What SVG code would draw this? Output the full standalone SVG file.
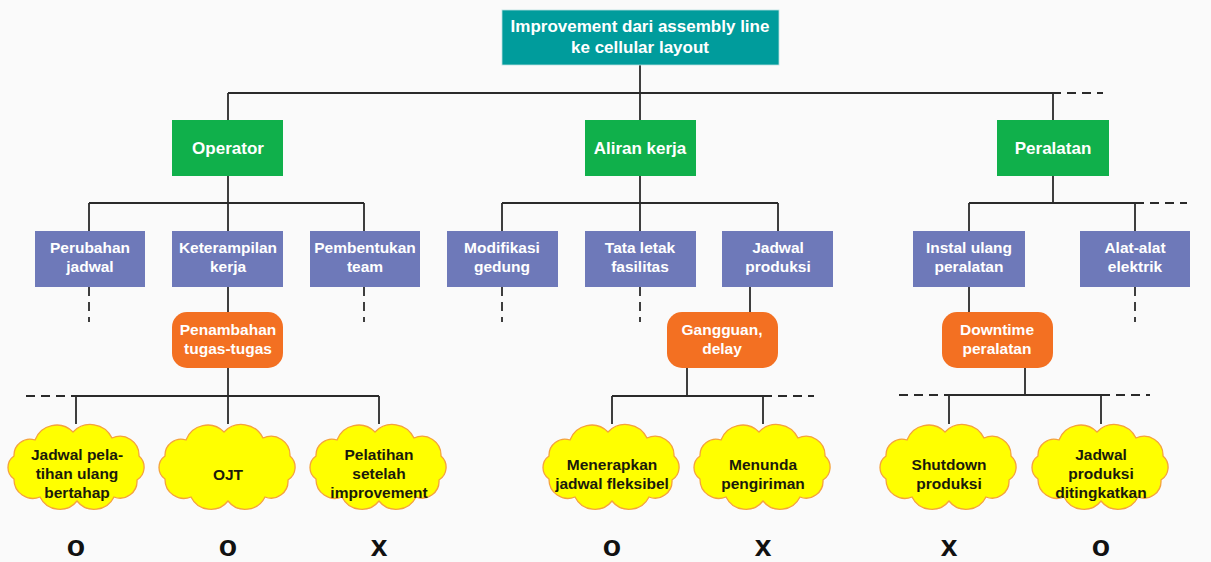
<svg xmlns="http://www.w3.org/2000/svg" width="1211" height="562" viewBox="0 0 1211 562">
<defs>
<style>
.bx text{font-family:"Liberation Sans",Arial,sans-serif;font-weight:bold;font-size:15.5px;fill:#fff;text-anchor:middle}
.bx text.big{font-size:17px}
.top{fill:#009c9c;stroke:#b9e0e0;stroke-width:0.8}
.grn{fill:#10b04b}
.blu{fill:#6e79b9}
.org{fill:#f37022}
.cl text{font-family:"Liberation Sans",Arial,sans-serif;font-weight:bold;font-size:15.5px;fill:#1a1a0a;text-anchor:middle}
.cloud{fill:#ffff00;stroke:#f5a23c;stroke-width:1.3}
.ln{stroke:#2a2a2a;stroke-width:1.8;fill:none}
.dl{stroke:#2a2a2a;stroke-width:1.8;fill:none;stroke-dasharray:9 6}
.mk{font-family:"Liberation Sans",Arial,sans-serif;font-weight:bold;font-size:30px;fill:#111;text-anchor:middle}
</style>
<path id="cloudShape" class="cloud" d="M-42,-26 A23,23 0 0 1 -4,-34 A24,24 0 0 1 35,-28 A19,19 0 0 1 62,-10 A15,15 0 0 1 60,14 A17,17 0 0 1 37,31 A22,22 0 0 1 0,35 A22,22 0 0 1 -37,31 A19,19 0 0 1 -63,13 A14,14 0 0 1 -63,-10 A16,16 0 0 1 -42,-26 Z"/>
</defs>
<rect width="1211" height="562" fill="#fafafa"/>

<g id="connectors">
<path class="ln" d="M640,65V93M228,93H1052M228,93V120M640,93V120M1053,93V120"/>
<path class="dl" d="M1052,93H1103"/>
<path class="ln" d="M228,176V203M89,203H364M89,203V231M228,203V231M364,203V231"/>
<path class="ln" d="M640,176V231M502,203H778M502,203V231M778,203V231"/>
<path class="ln" d="M1053,176V203M969,203H1135M969,203V231M1135,203V231"/>
<path class="dl" d="M1135,203H1187"/>
<path class="dl" d="M89,287V322M364,287V322M502,287V322M640,287V322M1135,287V322"/>
<path class="ln" d="M228,287V312M228,368V424M76,396H379M76,396V424M379,396V424"/>
<path class="dl" d="M26,396H76"/>
<path class="ln" d="M750,287V312M687,368V396M612,396H763M612,396V424M763,396V424"/>
<path class="dl" d="M763,396H814"/>
<path class="ln" d="M969,287V312M1025,368V395M949,395H1101M949,395V424M1101,395V424"/>
<path class="dl" d="M899,395H949M1101,395H1150"/>
</g>

<g id="n-top" class="bx"><rect class="top" x="502" y="10" width="277" height="55"/><text class="big" x="640" y="32">Improvement dari assembly line</text><text class="big" x="640" y="53">ke cellular layout</text></g>

<g id="n-operator" class="bx"><rect class="grn" x="172" y="120" width="111" height="56"/><text class="big" x="228" y="154">Operator</text></g>
<g id="n-aliran" class="bx"><rect class="grn" x="585" y="120" width="111" height="56"/><text class="big" x="640" y="154">Aliran kerja</text></g>
<g id="n-peralatan" class="bx"><rect class="grn" x="997" y="120" width="112" height="56"/><text class="big" x="1053" y="154">Peralatan</text></g>

<g id="n-perubahan" class="bx"><rect class="blu" x="35" y="231" width="110" height="56"/><text x="90" y="253">Perubahan</text><text x="90" y="272">jadwal</text></g>
<g id="n-keterampilan" class="bx"><rect class="blu" x="172" y="231" width="111" height="56"/><text x="228" y="253">Keterampilan</text><text x="228" y="272">kerja</text></g>
<g id="n-pembentukan" class="bx"><rect class="blu" x="310" y="231" width="110" height="56"/><text x="365" y="253">Pembentukan</text><text x="365" y="272">team</text></g>
<g id="n-modifikasi" class="bx"><rect class="blu" x="447" y="231" width="111" height="56"/><text x="502" y="253">Modifikasi</text><text x="502" y="272">gedung</text></g>
<g id="n-tataletak" class="bx"><rect class="blu" x="585" y="231" width="111" height="56"/><text x="640" y="253">Tata letak</text><text x="640" y="272">fasilitas</text></g>
<g id="n-jadwalproduksi" class="bx"><rect class="blu" x="722" y="231" width="111" height="56"/><text x="778" y="253">Jadwal</text><text x="778" y="272">produksi</text></g>
<g id="n-instal" class="bx"><rect class="blu" x="913" y="231" width="112" height="56"/><text x="969" y="253">Instal ulang</text><text x="969" y="272">peralatan</text></g>
<g id="n-alat" class="bx"><rect class="blu" x="1080" y="231" width="110" height="56"/><text x="1135" y="253">Alat-alat</text><text x="1135" y="272">elektrik</text></g>

<g id="n-penambahan" class="bx"><rect class="org" x="172" y="312" width="111" height="56" rx="15"/><text x="228" y="335">Penambahan</text><text x="228" y="354">tugas-tugas</text></g>
<g id="n-gangguan" class="bx"><rect class="org" x="667" y="312" width="111" height="56" rx="15"/><text x="722" y="335">Gangguan,</text><text x="722" y="354">delay</text></g>
<g id="n-downtime" class="bx"><rect class="org" x="942" y="312" width="111" height="56" rx="15"/><text x="997" y="335">Downtime</text><text x="997" y="354">peralatan</text></g>

<g id="c-jadwalpelatihan" class="cl"><use href="#cloudShape" x="77" y="466"/><text x="77" y="460">Jadwal pela-</text><text x="77" y="479">tihan ulang</text><text x="77" y="498">bertahap</text></g>
<g id="c-ojt" class="cl"><use href="#cloudShape" x="228" y="466"/><text x="228" y="480">OJT</text></g>
<g id="c-pelatihan" class="cl"><use href="#cloudShape" x="379" y="466"/><text x="379" y="460">Pelatihan</text><text x="379" y="479">setelah</text><text x="379" y="498">improvement</text></g>
<g id="c-menerapkan" class="cl"><use href="#cloudShape" x="612" y="466"/><text x="612" y="470">Menerapkan</text><text x="612" y="489">jadwal fleksibel</text></g>
<g id="c-menunda" class="cl"><use href="#cloudShape" x="763" y="466"/><text x="763" y="470">Menunda</text><text x="763" y="489">pengiriman</text></g>
<g id="c-shutdown" class="cl"><use href="#cloudShape" x="949" y="466"/><text x="949" y="470">Shutdown</text><text x="949" y="489">produksi</text></g>
<g id="c-ditingkatkan" class="cl"><use href="#cloudShape" x="1101" y="466"/><text x="1101" y="460">Jadwal</text><text x="1101" y="479">produksi</text><text x="1101" y="498">ditingkatkan</text></g>

<g id="marks">
<text class="mk" x="76" y="556">o</text>
<text class="mk" x="228" y="556">o</text>
<text class="mk" x="379" y="556">x</text>
<text class="mk" x="612" y="556">o</text>
<text class="mk" x="763" y="556">x</text>
<text class="mk" x="949" y="556">x</text>
<text class="mk" x="1101" y="556">o</text>
</g>
</svg>
